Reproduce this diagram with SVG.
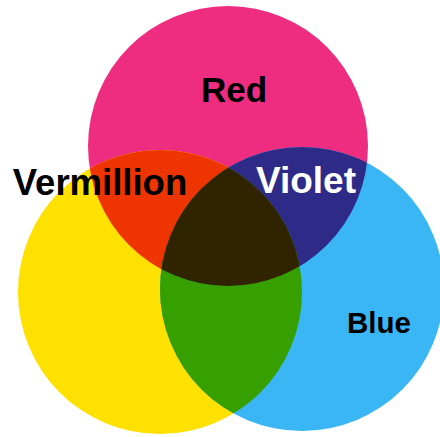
<svg xmlns="http://www.w3.org/2000/svg" width="440" height="437" viewBox="0 0 440 437">
<style>
.lbl{font-family:"Liberation Sans",Arial,sans-serif;font-weight:bold;}
</style>
<defs>
<clipPath id="cM"><circle cx="228" cy="146" r="140"/></clipPath>
<clipPath id="cY"><circle cx="160" cy="292" r="142"/></clipPath>
<clipPath id="cB"><circle cx="302" cy="289" r="142"/></clipPath>
</defs>
<rect width="440" height="437" fill="#ffffff"/>
<g id="red">
<circle cx="228" cy="146" r="140" fill="#EE2D80"/>
</g>
<g id="yellow">
<circle cx="160" cy="292" r="142" fill="#FFE100"/>
</g>
<g id="blue">
<circle cx="302" cy="289" r="142" fill="#3BB6F5"/>
</g>
<g id="vermillion">
<circle cx="160" cy="292" r="142" fill="#EE3400" clip-path="url(#cM)"/>
</g>
<g id="violet">
<circle cx="302" cy="289" r="142" fill="#2E2A88" clip-path="url(#cM)"/>
</g>
<g id="green">
<circle cx="302" cy="289" r="142" fill="#36A000" clip-path="url(#cY)"/>
</g>
<g id="center">
<g clip-path="url(#cY)">
<circle cx="302" cy="289" r="142" fill="#302300" clip-path="url(#cM)"/>
</g>
</g>
<g id="labels">
<text class="lbl" x="234" y="102" font-size="35" text-anchor="middle" fill="#000">Red</text>
<text class="lbl" x="100" y="195" font-size="36.5" text-anchor="middle" fill="#000">Vermillion</text>
<text class="lbl" x="306" y="193" font-size="37" text-anchor="middle" fill="#fff">Violet</text>
<text class="lbl" x="379" y="333" font-size="29.5" text-anchor="middle" fill="#000">Blue</text>
</g>
</svg>
